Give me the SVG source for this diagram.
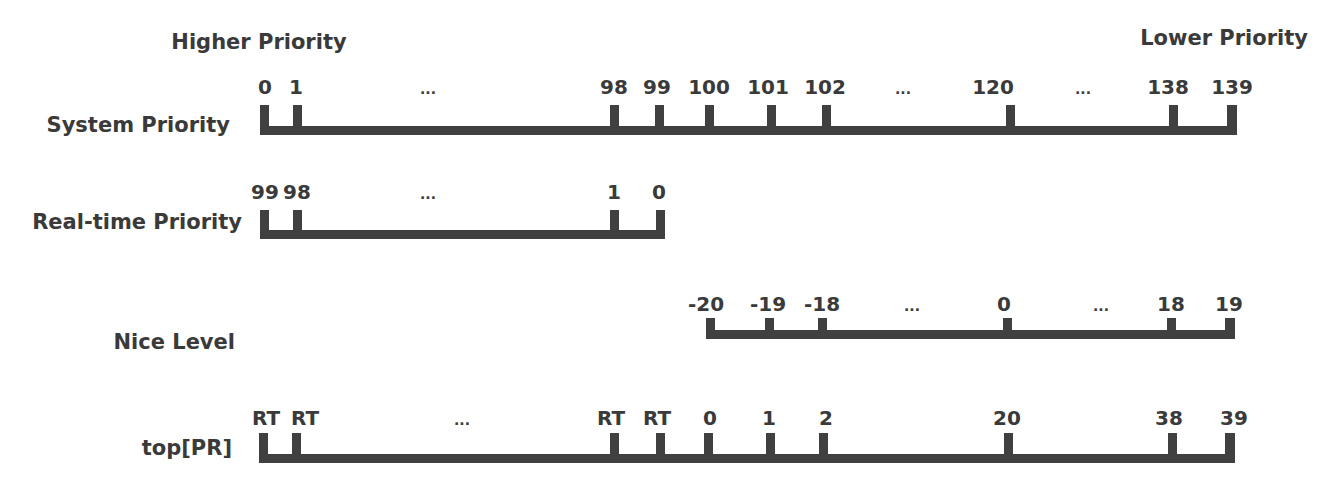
<svg xmlns="http://www.w3.org/2000/svg" width="1333" height="493" viewBox="0 0 1333 493">
<style>
text{font-family:"DejaVu Sans","Liberation Sans",sans-serif;font-weight:bold;fill:#3a3a3a}
.t{font-size:21px}
.n{font-size:20px;text-anchor:middle}
.d{font-size:14px;text-anchor:middle}
.r{text-anchor:end}
.b{fill:#404040}
</style>
<rect width="1333" height="493" fill="#ffffff"/>
<g id="header">
<text class="t" x="259" y="49" text-anchor="middle">Higher Priority</text>
<text class="t r" x="1308" y="45">Lower Priority</text>
</g>
<g id="system-priority">
<text class="t r" x="230" y="132">System Priority</text>
<rect class="b" x="260" y="126" width="977" height="9"/>
<rect class="b" x="260" y="105" width="9" height="30"/>
<rect class="b" x="293" y="105" width="9" height="30"/>
<rect class="b" x="610" y="105" width="9" height="30"/>
<rect class="b" x="655" y="105" width="9" height="30"/>
<rect class="b" x="705" y="105" width="9" height="30"/>
<rect class="b" x="767" y="105" width="9" height="30"/>
<rect class="b" x="822" y="105" width="9" height="30"/>
<rect class="b" x="1006" y="105" width="9" height="30"/>
<rect class="b" x="1169" y="105" width="9" height="30"/>
<rect class="b" x="1227" y="105" width="10" height="30"/>
<text class="n" x="265" y="94">0</text>
<text class="n" x="296" y="94">1</text>
<text class="d" x="428" y="94">...</text>
<text class="n" x="614" y="94">98</text>
<text class="n" x="657" y="94">99</text>
<text class="n" x="709" y="94">100</text>
<text class="n" x="768" y="94">101</text>
<text class="n" x="825" y="94">102</text>
<text class="d" x="903" y="94">...</text>
<text class="n" x="993" y="94">120</text>
<text class="d" x="1083" y="94">...</text>
<text class="n" x="1168" y="94">138</text>
<text class="n" x="1232" y="94">139</text>
</g>
<g id="realtime-priority">
<text class="t r" x="242" y="229">Real-time Priority</text>
<rect class="b" x="260" y="230" width="405" height="9"/>
<rect class="b" x="260" y="210" width="9" height="29"/>
<rect class="b" x="293" y="210" width="9" height="29"/>
<rect class="b" x="610" y="210" width="9" height="29"/>
<rect class="b" x="656" y="210" width="9" height="29"/>
<text class="n" x="265" y="199">99</text>
<text class="n" x="297" y="199">98</text>
<text class="d" x="428" y="199">...</text>
<text class="n" x="614" y="199">1</text>
<text class="n" x="659" y="199">0</text>
</g>
<g id="nice-level">
<text class="t r" x="235" y="349">Nice Level</text>
<rect class="b" x="706" y="330" width="529" height="9"/>
<rect class="b" x="706" y="318" width="9" height="21"/>
<rect class="b" x="765" y="318" width="9" height="21"/>
<rect class="b" x="818" y="318" width="9" height="21"/>
<rect class="b" x="1003" y="318" width="9" height="21"/>
<rect class="b" x="1167" y="318" width="9" height="21"/>
<rect class="b" x="1225" y="318" width="10" height="21"/>
<text class="n" x="706" y="311">-20</text>
<text class="n" x="768" y="311">-19</text>
<text class="n" x="822" y="311">-18</text>
<text class="d" x="912" y="311">...</text>
<text class="n" x="1004" y="311">0</text>
<text class="d" x="1101" y="311">...</text>
<text class="n" x="1171" y="311">18</text>
<text class="n" x="1229" y="311">19</text>
</g>
<g id="top-pr">
<text class="t r" x="232" y="455">top[PR]</text>
<rect class="b" x="259" y="454" width="976" height="9"/>
<rect class="b" x="259" y="433" width="9" height="30"/>
<rect class="b" x="292" y="433" width="9" height="30"/>
<rect class="b" x="610" y="433" width="9" height="30"/>
<rect class="b" x="656" y="433" width="9" height="30"/>
<rect class="b" x="704" y="433" width="9" height="30"/>
<rect class="b" x="766" y="433" width="9" height="30"/>
<rect class="b" x="819" y="433" width="9" height="30"/>
<rect class="b" x="1004" y="433" width="9" height="30"/>
<rect class="b" x="1168" y="433" width="9" height="30"/>
<rect class="b" x="1225" y="433" width="10" height="30"/>
<text class="n" x="266" y="425">RT</text>
<text class="n" x="305" y="425">RT</text>
<text class="d" x="462" y="425">...</text>
<text class="n" x="611" y="425">RT</text>
<text class="n" x="657" y="425">RT</text>
<text class="n" x="710" y="425">0</text>
<text class="n" x="769" y="425">1</text>
<text class="n" x="826" y="425">2</text>
<text class="n" x="1007" y="425">20</text>
<text class="n" x="1169" y="425">38</text>
<text class="n" x="1234" y="425">39</text>
</g>
</svg>
